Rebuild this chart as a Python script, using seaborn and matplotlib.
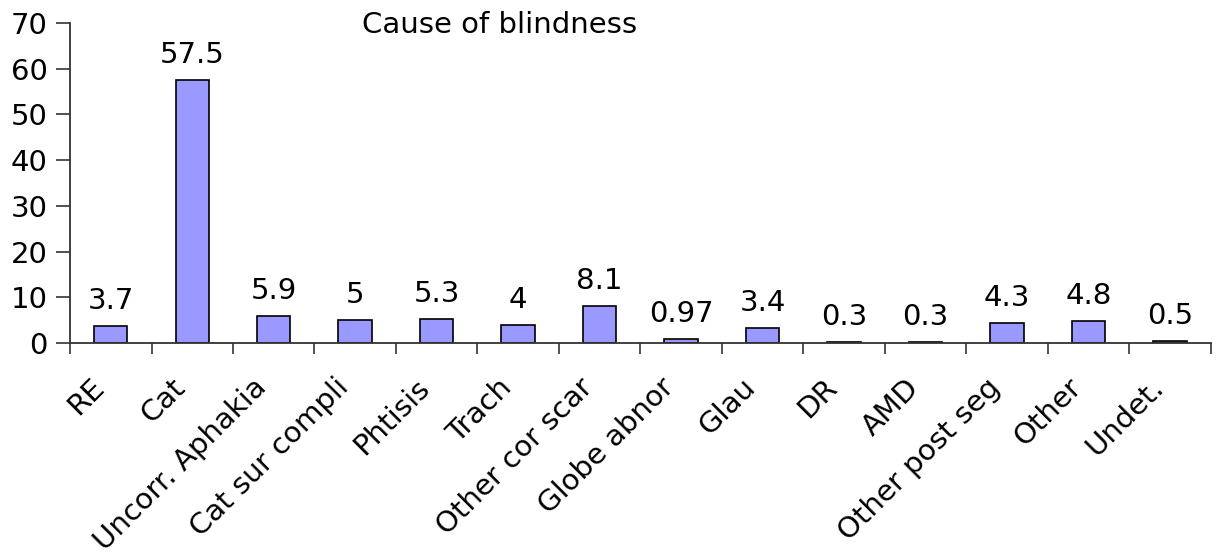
import matplotlib
matplotlib.use("Agg")
import matplotlib.pyplot as plt
import matplotlib.transforms as mtransforms
import seaborn as sns
import pandas as pd
import numpy as np

categories = ["RE", "Cat", "Uncorr. Aphakia", "Cat sur compli", "Phtisis", "Trach",
              "Other cor scar", "Globe abnor", "Glau", "DR", "AMD", "Other post seg",
              "Other", "Undet."]
values = [3.7, 57.5, 5.9, 5, 5.3, 4, 8.1, 0.97, 3.4, 0.3, 0.3, 4.3, 4.8, 0.5]
title = "Cause of blindness"

sns.set_style("white")
plt.rcParams['font.family'] = ['DejaVu Sans']
plt.rcParams['text.color'] = 'black'
plt.rcParams['xtick.color'] = 'black'
plt.rcParams['ytick.color'] = 'black'

FS = 21

df = pd.DataFrame({"cause": categories, "value": values})

fig = plt.figure(figsize=(12.18, 5.58), dpi=100)
ax = fig.add_axes([0.0575, 0.385, 0.9365, 0.574])

sns.barplot(data=df, x="cause", y="value", order=categories, color="#9999FF",
            saturation=1, edgecolor="black", linewidth=1.2, width=0.41, ax=ax)

ax.bar_label(ax.containers[0], labels=[f"{v:g}" for v in values], padding=8,
             fontsize=FS, color="black")

ax.set_xlim(-0.5, len(categories) - 0.5)
ax.set_ylim(0, 70)
ax.set_yticks(np.arange(0, 71, 10))
ax.set_xlabel("")
ax.set_ylabel("")

ax.set_xticks(np.arange(len(categories)))
ax.set_xticklabels(categories, rotation=45, ha="right", rotation_mode="anchor", fontsize=FS)
ax.set_xticks(np.arange(-0.5, len(categories)), minor=True)
ax.tick_params(axis="x", which="major", length=0, pad=16)
ax.tick_params(axis="x", which="minor", length=8, width=1.2, direction="out", color="#333333")
ax.tick_params(axis="y", length=10, width=1.2, direction="out", color="#333333", labelsize=FS, pad=6)
ax.yaxis.set_ticks_position("left")
ax.xaxis.set_ticks_position("bottom")

offset = mtransforms.ScaledTranslation(-21 / 100, -8 / 100, fig.dpi_scale_trans)
for lbl in ax.get_xticklabels():
    lbl.set_transform(lbl.get_transform() + offset)

for s in ["top", "right"]:
    ax.spines[s].set_visible(False)
for s in ["left", "bottom"]:
    ax.spines[s].set_color("#333333")
    ax.spines[s].set_linewidth(1.3)

fig.text(500 / 1218, 1 - 11 / 558, title, ha="center", va="top", fontsize=FS, color="black")

fig.savefig("out.png", dpi=100)
